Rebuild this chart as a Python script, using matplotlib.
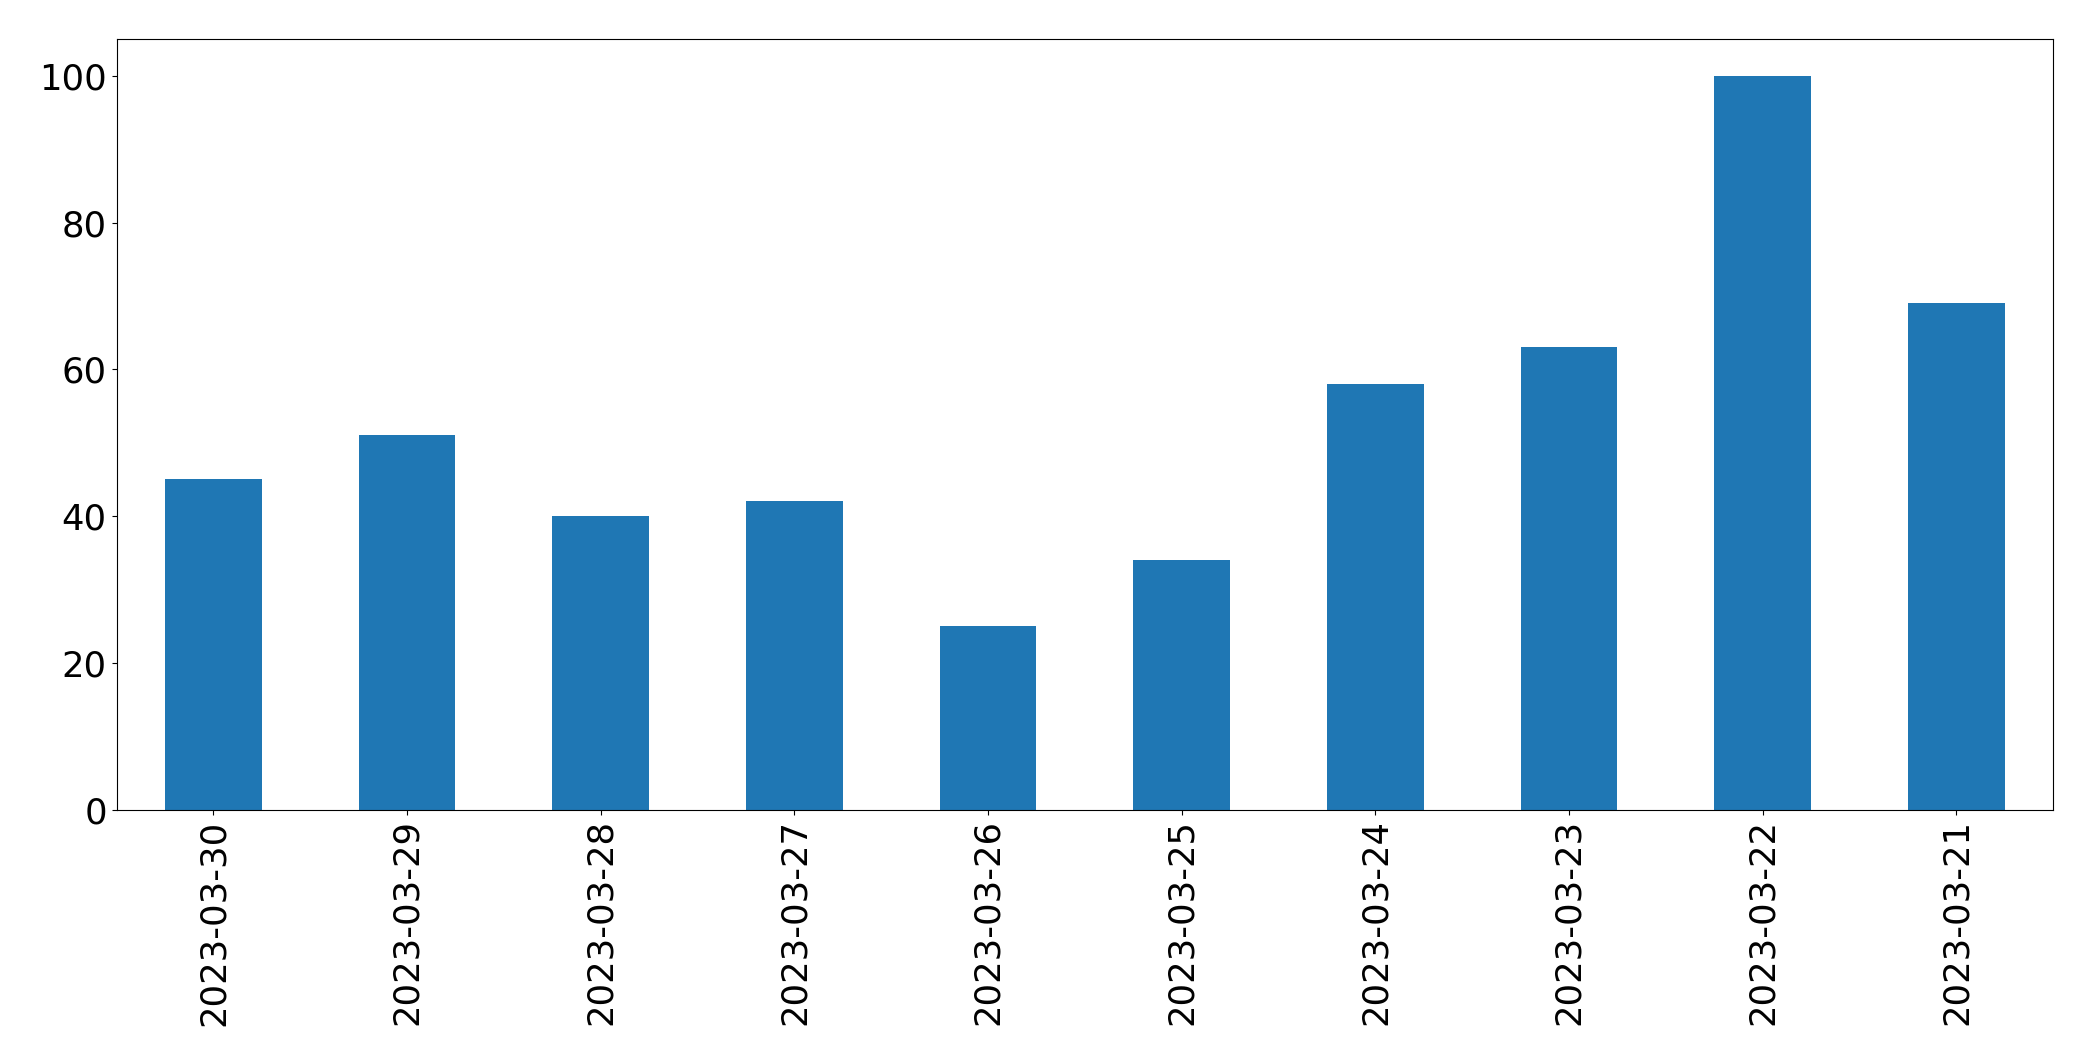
import matplotlib

matplotlib.use("Agg")
import matplotlib.pyplot as plt
import pandas as pd

dates = [
    "2023-03-30", "2023-03-29", "2023-03-28", "2023-03-27", "2023-03-26",
    "2023-03-25", "2023-03-24", "2023-03-23", "2023-03-22", "2023-03-21",
]
counts = [45, 51, 40, 42, 25, 34, 58, 63, 100, 69]

s = pd.Series(counts, index=dates)

fig, ax = plt.subplots(figsize=(20.93, 10.61), dpi=100)
s.plot.bar(ax=ax, color="#1f77b4")
ax.tick_params(axis="both", labelsize=25.5)
fig.subplots_adjust(left=0.0557, right=0.981, top=0.963, bottom=0.237)
fig.savefig("out.png")
plt.close(fig)
